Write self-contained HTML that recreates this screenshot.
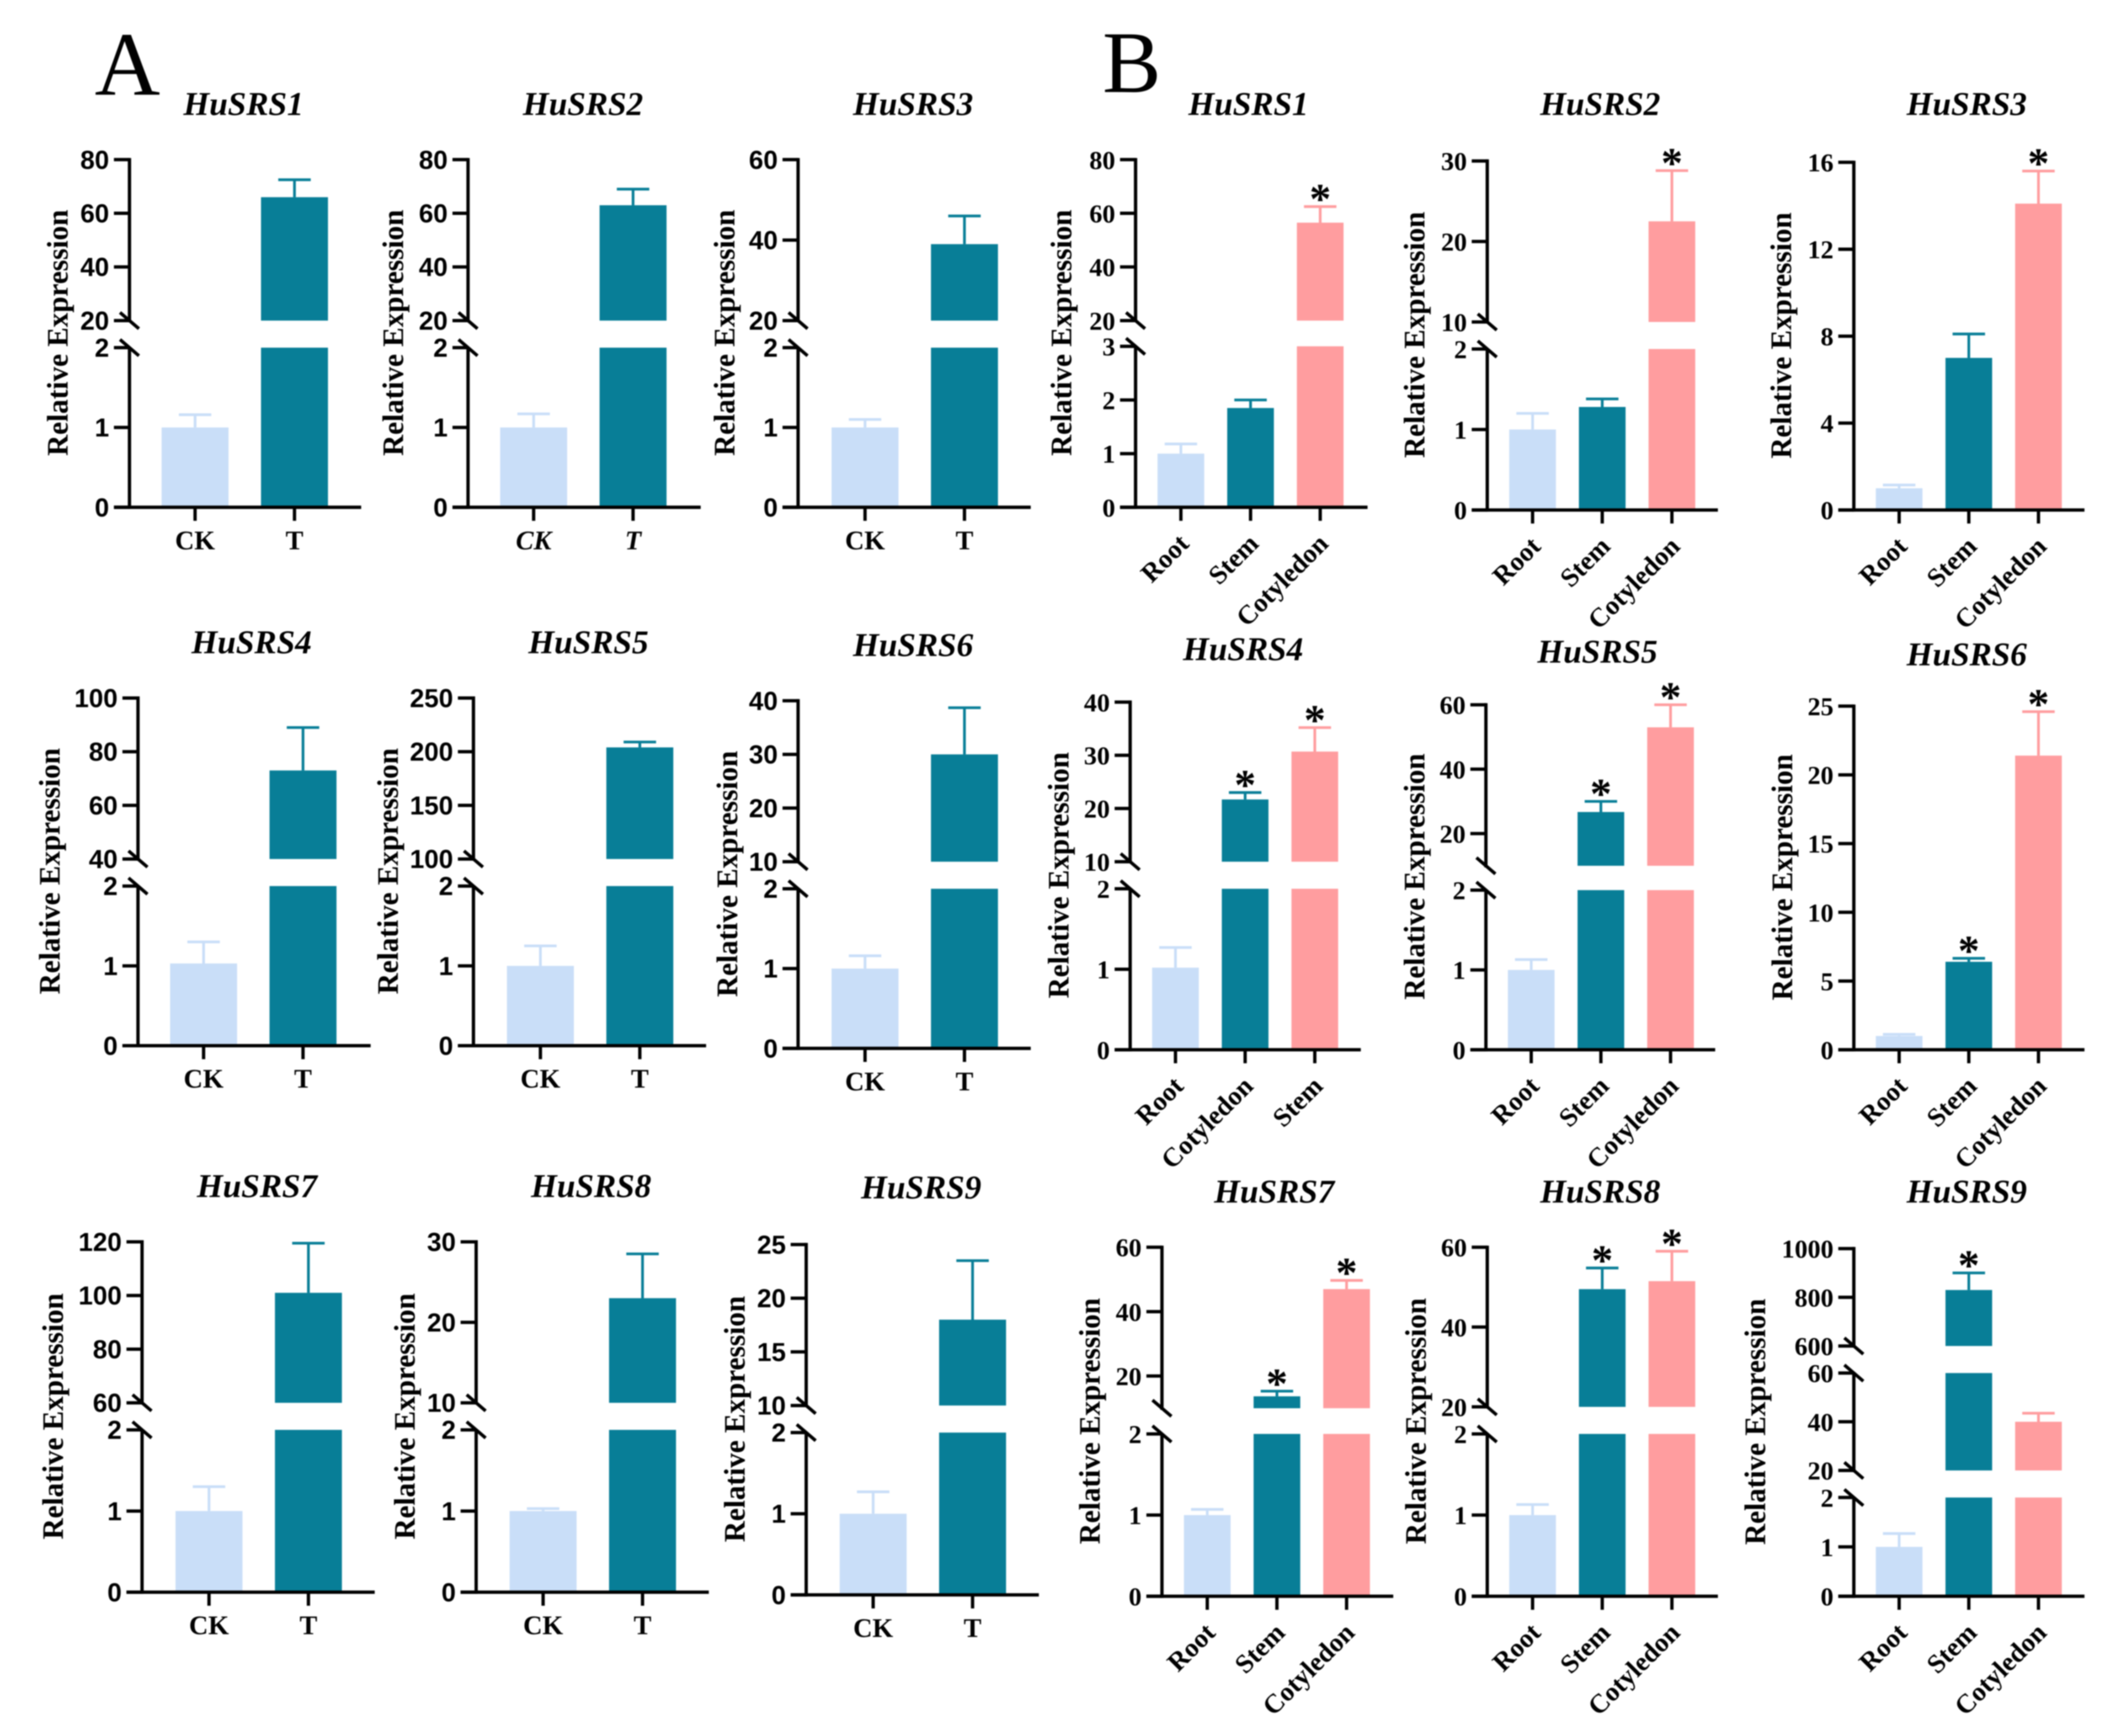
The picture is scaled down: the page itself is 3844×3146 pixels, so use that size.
<!DOCTYPE html>
<html lang="en">
<head>
<meta charset="utf-8">
<title>HuSRS relative expression</title>
<style>
html,body{margin:0;padding:0;background:#fff;width:3844px;height:3146px;overflow:hidden}
svg{display:block;filter:blur(1px)}
.sans{font-family:"Liberation Sans",sans-serif;font-weight:bold}
.serif{font-family:"Liberation Serif",serif;font-weight:bold}
</style>
</head>
<body>
<svg id="figure" xmlns="http://www.w3.org/2000/svg" width="3844" height="3146" viewBox="0 0 1568 1283.3">
<text x="70" y="70" font-family="Liberation Serif, serif" font-size="67">A</text>
<text x="815" y="68" font-family="Liberation Serif, serif" font-size="65">B</text>
</svg>
<script>
// ---- data ----
const genes = ['HuSRS1','HuSRS2','HuSRS3','HuSRS4','HuSRS5','HuSRS6','HuSRS7','HuSRS8','HuSRS9'];
const groupACategories = ['CK','T'];
const groupBCategories = [
  ['Root','Stem','Cotyledon'],['Root','Stem','Cotyledon'],['Root','Stem','Cotyledon'],
  ['Root','Cotyledon','Stem'],['Root','Stem','Cotyledon'],['Root','Stem','Cotyledon'],
  ['Root','Stem','Cotyledon'],['Root','Stem','Cotyledon'],['Root','Stem','Cotyledon']
];
const groupAMeans = [[1,66],[1,63],[1,39],[1.03,73],[1,204],[1,30],[1,101],[1,23],[1,18]];
const groupAErrorTops = [[1.16,72.5],[1.17,69],[1.1,46],[1.3,89],[1.25,209],[1.16,38.7],[1.3,119.5],[1.03,28.5],[1.27,23.5]];
const groupBMeans = [
  [1,1.85,56.5],[1,1.28,22.5],[1,7,14.1],
  [1.02,21.7,30.7],[1,26.7,53],[1,6.4,21.4],
  [1,13.7,47],[1,49.5,51.5],[1,830,40]
];
const groupBErrorTops = [
  [1.18,2,62.5],[1.2,1.38,28.8],[1.15,8.1,15.6],
  [1.27,23,35.2],[1.13,30,60],[1.12,6.65,24.6],
  [1.07,15.3,49.7],[1.13,54.8,59],[1.27,900,43.5]
];
const groupBSignificant = [
  [0,0,1],[0,0,1],[0,0,1],
  [0,1,1],[0,1,1],[0,1,1],
  [0,1,1],[0,1,1],[0,1,0]
];
const groupATickLabels = [
  [[0,1,2],[20,40,60,80]],[[0,1,2],[20,40,60,80]],[[0,1,2],[20,40,60]],
  [[0,1,2],[40,60,80,100]],[[0,1,2],[100,150,200,250]],[[0,1,2],[10,20,30,40]],
  [[0,1,2],[60,80,100,120]],[[0,1,2],[10,20,30]],[[0,1,2],[10,15,20,25]]
];
const groupBTickLabels = [
  [[0,1,2,3],[20,40,60,80]],[[0,1,2],[10,20,30]],[[0,4,8,12,16]],
  [[0,1,2],[10,20,30,40]],[[0,1,2],[20,40,60]],[[0,5,10,15,20,25]],
  [[0,1,2],[20,40,60]],[[0,1,2],[20,40,60]],[[0,1,2],[20,40,60],[600,800,1000]]
];
const groupBDomainFloors = [
  [0,20],[0,10],[0],
  [0,10],[0,10],[0],
  [0,10],[0,20],[0,20,600]
];

// ---- layout (figure geometry only, no data) ----
const barColors = ['#C9DEF8','#087E97','#FF9D9F'];
const layoutA = [
  {ax:95.7,base:375,top:118,gaps:[[237,257]],first:48.5,end:267,tx:180,ty:85,lx:50},
  {ax:346,base:375,top:118,gaps:[[237,257]],first:48.5,end:518,tx:431,ty:85,lx:298,italic:true},
  {ax:590,base:375,top:118,gaps:[[237,257]],first:49.5,end:762,tx:675,ty:85,lx:543},
  {ax:102,base:773,top:516,gaps:[[635,655]],first:48.5,end:274,tx:186,ty:483,lx:44},
  {ax:350,base:773,top:516,gaps:[[635,655]],first:49.5,end:522,tx:435,ty:483,lx:294},
  {ax:590,base:775,top:518,gaps:[[637,657]],first:49.5,end:762,tx:675,ty:485,lx:545},
  {ax:105,base:1177,top:918,gaps:[[1037,1057]],first:49.5,end:277,tx:190,ty:885,lx:46.5},
  {ax:352,base:1177,top:918,gaps:[[1037,1057]],first:49.5,end:524,tx:437,ty:885,lx:306.5},
  {ax:596,base:1179,top:920,gaps:[[1039,1059]],first:49.5,end:768,tx:681,ty:886,lx:550.5}
];
const layoutB = [
  {ax:839.5,base:375,top:118,gaps:[[237,256]],first:33.5,end:1011,tx:923,ty:85,lx:792},
  {ax:1099.5,base:377,top:119,gaps:[[238,258]],first:33.5,end:1270,tx:1183,ty:85,lx:1053},
  {ax:1370.5,base:377,top:120,gaps:[],first:33.5,end:1541,tx:1454,ty:85,lx:1324},
  {ax:835.5,base:776,top:519,gaps:[[637,657]],first:33.5,end:1006,tx:919,ty:488,lx:790},
  {ax:1098.5,base:776,top:521,gaps:[[640,658]],first:33.5,end:1268,tx:1181,ty:490,lx:1053},
  {ax:1370.5,base:776,top:522,gaps:[],first:33.5,end:1541,tx:1454,ty:492,lx:1325},
  {ax:859,base:1180,top:922,gaps:[[1041,1060]],first:33.5,end:1030,tx:942,ty:889,lx:813},
  {ax:1099.5,base:1180,top:922,gaps:[[1040,1060]],first:33.5,end:1270,tx:1183,ty:889,lx:1054},
  {ax:1370.5,base:1180,top:923,gaps:[[1087,1107],[995,1015]],first:33.5,end:1541,tx:1454,ty:889,lx:1305}
];

// ---- drawing ----
const NS = 'http://www.w3.org/2000/svg';
const svg = document.getElementById('figure');
function make(tag, attrs, parent){
  const el = document.createElementNS(NS, tag);
  for (const k in attrs) el.setAttribute(k, attrs[k]);
  parent.appendChild(el);
  return el;
}
// Builds one y scale per axis segment, bottom segment first.
function buildSegments(layout, floors, ticks){
  const segs = [];
  const n = floors.length;
  for (let i = 0; i < n; i++){
    const pxLo = i === 0 ? layout.base : layout.gaps[i-1][0];
    const pxHi = i === n-1 ? layout.top : layout.gaps[i][1];
    const lo = floors[i];
    const hi = Math.max.apply(null, ticks[i]);
    segs.push({lo, hi, pxLo, pxHi, y: v => pxLo + (v-lo)/(hi-lo)*(pxHi-pxLo)});
  }
  return segs;
}
function segmentFor(segs, v){
  for (const s of segs){ if (v <= s.hi) return s; }
  return segs[segs.length-1];
}
function drawPanel(id, gene, layout, cats, means, errs, ticks, floors, sig, tickClass, barW, step, tickSize, rotated){
  const g = make('g', {}, svg);
  
  

  const title = make('text', {x:layout.tx, y:layout.ty, 'text-anchor':'middle', 'font-size':24.6, 'font-style':'italic', class:'serif'}, g);
  
  
  title.textContent = gene;

  const segs = buildSegments(layout, floors, ticks);
  const xOf = i => layout.ax + layout.first + i*step;

  // y-axis title
  const cy = (layout.top + layout.base)/2 - 0.5;
  const yt = make('text', {x:layout.lx, y:cy, 'text-anchor':'middle', 'font-size':22, class:'serif',
    textLength:182, lengthAdjust:'spacingAndGlyphs', transform:'rotate(-90 '+layout.lx+' '+cy+')'}, g);
  
  
  yt.textContent = 'Relative Expression';

  // bars with error bars
  means.forEach((m, i) => {
    const cx = xOf(i);
    const color = barColors[i];
    const errTop = errs[i];
    const topSeg = segmentFor(segs, m);
    segs.forEach(s => {
      if (m <= s.lo) return;
      const yTop = s.y(Math.min(m, s.hi));
      const r = make('rect', {x:cx-barW/2, y:yTop, width:barW, height:s.pxLo-yTop, fill:color}, g);
      
      
    });
    const eY = topSeg.y(errTop);
    const stem = make('line', {x1:cx, x2:cx, y1:topSeg.y(m), y2:eY, stroke:color, 'stroke-width':2}, g);
    
    
    const cap = make('line', {x1:cx-12, x2:cx+12, y1:eY, y2:eY, stroke:color, 'stroke-width':2}, g);
    
    
    if (sig && sig[i]){
      const star = make('text', {x:cx, y:eY+5, 'text-anchor':'middle', 'font-size':32, class:'serif', fill:'#000'}, g);
      
      
      star.textContent = '*';
    }
  });

  // y axis segments
  const axisStyle = {stroke:'#000', 'stroke-width':2.45, fill:'none'};
  segs.forEach((s, si) => {
    const a = make('line', Object.assign({x1:layout.ax, x2:layout.ax, y1:s.pxLo+1.2, y2:s.pxHi-(si===segs.length-1?1.2:0)}, axisStyle), g);
    
    
    ticks[si].forEach(t => {
      const y = s.y(t);
      const tk = make('line', Object.assign({x1:layout.ax-11.5, x2:layout.ax, y1:y, y2:y}, axisStyle), g);
      
      
      const lb = make('text', {x:layout.ax-15, y:y+tickSize*0.35, 'text-anchor':'end', 'font-size':tickSize, class:tickClass}, g);
      
      
      lb.textContent = t;
    });
  });
  // axis break marks
  layout.gaps.forEach(gap => {
    gap.forEach(y => {
      const b = make('line', Object.assign({x1:layout.ax-7, x2:layout.ax+7, y1:y-6, y2:y+6}, axisStyle), g);
      
      
    });
  });
  // x axis
  const xa = make('line', Object.assign({x1:layout.ax-11.5, x2:layout.end, y1:layout.base, y2:layout.base}, axisStyle), g);
  
  
  cats.forEach((c, i) => {
    const cx = xOf(i);
    const tk = make('line', Object.assign({x1:cx, x2:cx, y1:layout.base, y2:layout.base+10}, axisStyle), g);
    
    
    let lb;
    if (rotated){
      const px = cx + 7, py = layout.base + 28;
      lb = make('text', {x:px, y:py, 'text-anchor':'end', 'font-size':19.7, class:'serif', transform:'rotate(-45 '+px+' '+py+')'}, g);
    } else {
      lb = make('text', {x:cx, y:layout.base+31, 'text-anchor':'middle', 'font-size':19.7, class:'serif', 'font-style':layout.italic?'italic':'normal'}, g);
    }
    
    
    lb.textContent = c;
  });
}
genes.forEach((gene, i) => {
  drawPanel('a-' + gene.toLowerCase(), gene, layoutA[i], groupACategories, groupAMeans[i], groupAErrorTops[i],
    groupATickLabels[i], [0, groupATickLabels[i][1][0]], null, 'sans', 49.5, 73.5, 19.2, false);
});
genes.forEach((gene, i) => {
  drawPanel('b-' + gene.toLowerCase(), gene, layoutB[i], groupBCategories[i], groupBMeans[i], groupBErrorTops[i],
    groupBTickLabels[i], groupBDomainFloors[i], groupBSignificant[i], 'serif', 34.5, 51.5, 19.2, true);
});
</script>
</body>
</html>
